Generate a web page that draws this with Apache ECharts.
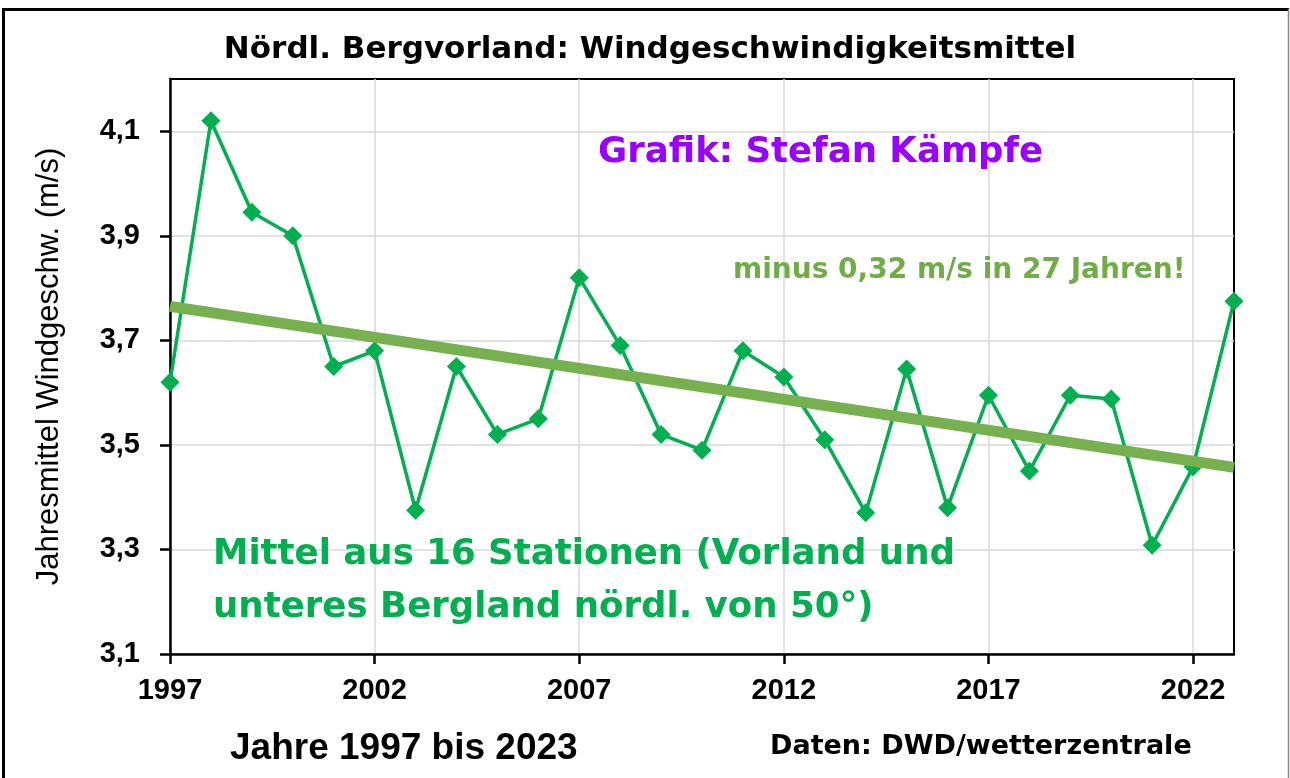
<!DOCTYPE html>
<html>
<head>
<meta charset="utf-8">
<script src="https://cdn.jsdelivr.net/npm/echarts@6/dist/echarts.min.js"></script>
<style>
  html, body { margin: 0; padding: 0; background: #fff; }
  #chart { width: 1290px; height: 778px; }
</style>
</head>
<body>
<div id="chart"></div>
<script>
// Jahresmittel der Windgeschwindigkeit (m/s)
const years = ['1997', '1998', '1999', '2000', '2001', '2002', '2003', '2004', '2005',
  '2006', '2007', '2008', '2009', '2010', '2011', '2012', '2013', '2014', '2015',
  '2016', '2017', '2018', '2019', '2020', '2021', '2022', '2023'];
const windMean = [3.62, 4.12, 3.945, 3.90, 3.65, 3.68, 3.375, 3.65, 3.52,
  3.55, 3.82, 3.69, 3.52, 3.49, 3.68, 3.63, 3.51, 3.37, 3.645,
  3.38, 3.595, 3.45, 3.595, 3.588, 3.308, 3.458, 3.775];
// linearer Trend: Endpunkte
const trendYears = ['1997', '2023'];
const trendValues = [3.765, 3.457];
const yTicks = [3.1, 3.3, 3.5, 3.7, 3.9, 4.1];

const wide = 'DejaVu Sans';
const arial = 'Liberation Sans';
const fmt = v => Number(v).toFixed(1).replace('.', ',');

const chart = echarts.init(document.getElementById('chart'));

chart.setOption({
  animation: false,
  backgroundColor: '#fff',
  grid: {
    left: 170, right: 56, top: 79, bottom: 124,
    show: true, borderColor: '#000', borderWidth: 2
  },
  xAxis: {
    type: 'category',
    data: years,
    boundaryGap: false,
    axisLine: { lineStyle: { color: '#000', width: 2.5 } },
    axisTick: { interval: 4, length: 10, lineStyle: { color: '#000', width: 2.5 } },
    axisLabel: {
      interval: 4, margin: 22, color: '#000',
      fontFamily: arial, fontWeight: 'bold', fontSize: 29
    },
    splitLine: { show: true, interval: 4, lineStyle: { color: '#d9d9d9', width: 1.5 } }
  },
  yAxis: {
    type: 'value',
    min: 3.1,
    max: 4.2,
    name: 'Jahresmittel Windgeschw. (m/s)',
    nameLocation: 'middle',
    nameRotate: 90,
    nameGap: 105,
    nameTextStyle: { fontFamily: arial, fontSize: 31, color: '#000' },
    axisLine: { show: true, lineStyle: { color: '#000', width: 2.5 } },
    axisTick: { show: true, customValues: yTicks, length: 10, lineStyle: { color: '#000', width: 2.5 } },
    axisLabel: {
      customValues: yTicks, formatter: fmt, margin: 30, color: '#000',
      fontFamily: arial, fontWeight: 'bold', fontSize: 29
    },
    splitLine: { show: true, lineStyle: { color: '#d9d9d9', width: 1.5 } }
  },
  series: [
    {
      name: 'Windgeschwindigkeit',
      type: 'line',
      data: windMean,
      symbol: 'diamond',
      symbolSize: 19,
      lineStyle: { color: '#00b050', width: 3.5 },
      itemStyle: { color: '#00b050' },
      z: 2
    },
    {
      name: 'Trend',
      type: 'line',
      data: trendYears.map((y, i) => [y, trendValues[i]]),
      symbol: 'none',
      lineStyle: { color: '#77b04f', width: 11 },
      z: 3
    }
  ],
  graphic: [
    {
      type: 'line', silent: true, z: 100,
      shape: { x1: 2, y1: 9.5, x2: 1289, y2: 9.5 },
      style: { stroke: '#000', lineWidth: 3 }
    },
    {
      type: 'line', silent: true, z: 100,
      shape: { x1: 3.5, y1: 8, x2: 3.5, y2: 778 },
      style: { stroke: '#000', lineWidth: 3 }
    },
    {
      type: 'line', silent: true, z: 100,
      shape: { x1: 1288.5, y1: 9, x2: 1288.5, y2: 778 },
      style: { stroke: '#888', lineWidth: 1.5 }
    },
    {
      type: 'text', x: 650, y: 50, z: 100,
      style: {
        text: 'Nördl. Bergvorland: Windgeschwindigkeitsmittel',
        fontFamily: wide, fontWeight: 'bold', fontSize: 31, fill: '#000',
        textAlign: 'center', textVerticalAlign: 'middle'
      }
    },
    {
      type: 'text', x: 598, y: 153, z: 100,
      style: {
        text: 'Grafik: Stefan Kämpfe',
        fontFamily: wide, fontWeight: 'bold', fontSize: 35.6, fill: '#9900ff',
        textAlign: 'left', textVerticalAlign: 'middle'
      }
    },
    {
      type: 'text', x: 733, y: 271, z: 100,
      style: {
        text: 'minus 0,32 m/s in 27 Jahren!',
        fontFamily: wide, fontWeight: 'bold', fontSize: 28, fill: '#70ad47',
        textAlign: 'left', textVerticalAlign: 'middle'
      }
    },
    {
      type: 'text', x: 213, y: 555, z: 100,
      style: {
        text: 'Mittel aus 16 Stationen (Vorland und',
        fontFamily: wide, fontWeight: 'bold', fontSize: 35.6, fill: '#00b050',
        textAlign: 'left', textVerticalAlign: 'middle'
      }
    },
    {
      type: 'text', x: 213, y: 608, z: 100,
      style: {
        text: 'unteres Bergland nördl. von 50°)',
        fontFamily: wide, fontWeight: 'bold', fontSize: 35.6, fill: '#00b050',
        textAlign: 'left', textVerticalAlign: 'middle'
      }
    },
    {
      type: 'text', x: 230, y: 749, z: 100,
      style: {
        text: 'Jahre 1997 bis 2023',
        fontFamily: arial, fontWeight: 'bold', fontSize: 37, fill: '#000',
        textAlign: 'left', textVerticalAlign: 'middle'
      }
    },
    {
      type: 'text', x: 770, y: 747, z: 100,
      style: {
        text: 'Daten: DWD/wetterzentrale',
        fontFamily: wide, fontWeight: 'bold', fontSize: 27, fill: '#000',
        textAlign: 'left', textVerticalAlign: 'middle'
      }
    }
  ]
});
</script>
</body>
</html>
